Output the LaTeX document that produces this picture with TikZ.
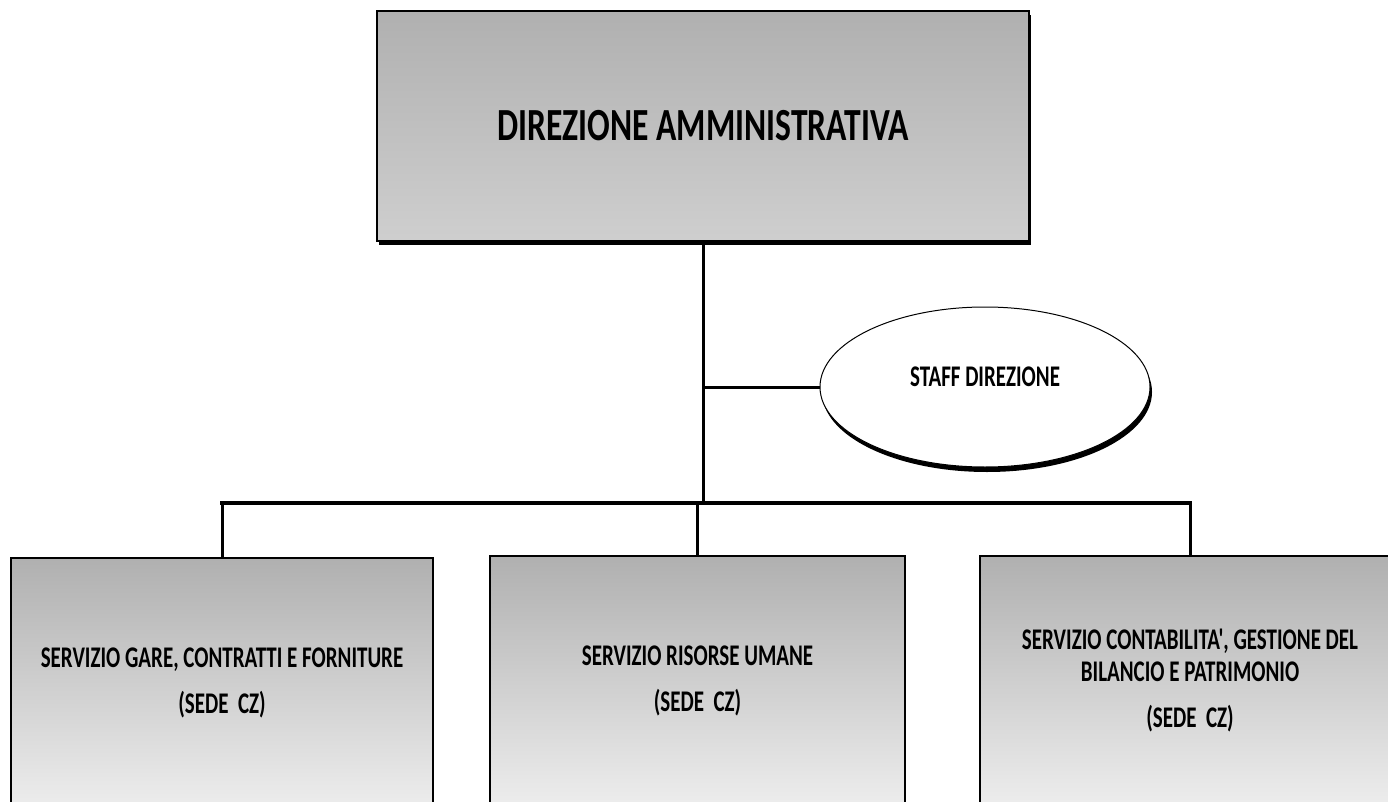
\documentclass[tikz,border=0pt]{standalone}
\usepackage{fontspec}
\setmainfont{Carlito}
\newfontfamily\narrowfont[FakeStretch=0.70]{Carlito}
\newfontfamily\wideishfont[FakeStretch=0.73]{Carlito}
\usetikzlibrary{shapes.geometric,shadows}
\begin{document}
\begin{tikzpicture}[x=1pt,y=-1pt,
  topbox/.style={draw=black, line width=1.6pt, shading=axis, top color=gray!62, middle color=gray!42, bottom color=gray!38,
    minimum width=652pt, minimum height=230pt, inner sep=0pt, align=center,
    drop shadow={shadow xshift=2pt, shadow yshift=-4pt, opacity=1, fill=black},
    font=\wideishfont\bfseries\fontsize{46}{52}\selectfont},
  unitbox/.style={draw=black, line width=1.6pt, shading=axis, top color=gray!62, middle color=gray!38, bottom color=gray!14,
    minimum width=422pt, minimum height=250pt, inner sep=0pt, align=center,
    font=\narrowfont\bfseries\fontsize{30}{32}\selectfont},
  staffnode/.style={ellipse, draw=black, line width=1pt, fill=white, minimum width=330pt, minimum height=160pt, inner sep=0pt,
    drop shadow={shadow xshift=2pt, shadow yshift=-5pt, opacity=1, fill=black},
    font=\narrowfont\bfseries\fontsize{30}{32}\selectfont},
  conn/.style={line width=3pt},
  bus/.style={line width=4pt}
]
\useasboundingbox (0,0) rectangle (1388,802);
\clip (0,0) rectangle (1388,802);

\node[topbox] (dir) at (703,126) {DIREZIONE AMMINISTRATIVA};
\node[staffnode] (staff) at (985,387) {\raisebox{20pt}{STAFF DIREZIONE}};

\node[unitbox] (gare) at (222,683) {SERVIZIO GARE, CONTRATTI E FORNITURE\\[14pt](SEDE\ \ CZ)};
\node[unitbox, minimum width=415pt] (ru) at (697.5,681) {SERVIZIO RISORSE UMANE\\[14pt](SEDE\ \ CZ)};
\node[unitbox, minimum width=420pt] (cont) at (1190,681) {SERVIZIO CONTABILITA', GESTIONE DEL\\BILANCIO E PATRIMONIO\\[14pt](SEDE\ \ CZ)};

\coordinate (j) at (703,503);
\draw[conn] (dir.south) -- (j);
\draw[conn] (dir.south |- staff.west) -- (staff.west);
\draw[bus, line cap=rect] (gare.north |- j) -- (cont.north |- j);
\draw[conn] (gare.north |- j) -- (gare.north);
\draw[conn] (ru.north |- j) -- (ru.north);
\draw[conn] (cont.north |- j) -- (cont.north);
\end{tikzpicture}
\end{document}
